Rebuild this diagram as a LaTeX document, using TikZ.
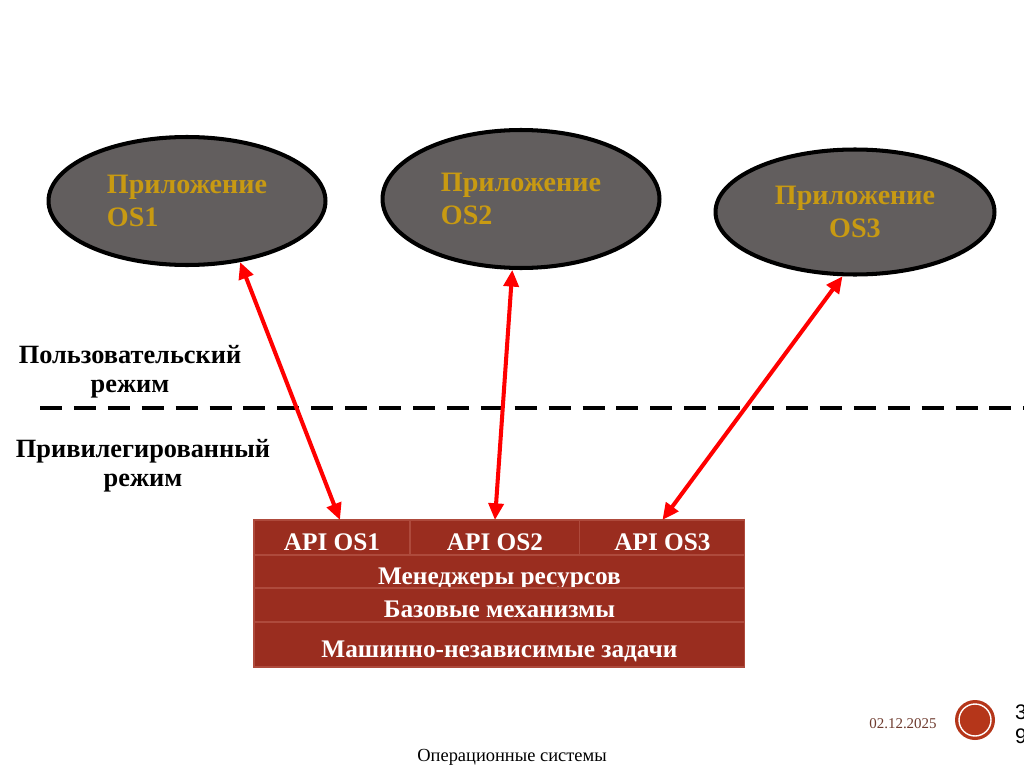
\documentclass[tikz,border=0pt]{standalone}
\usepackage{fontspec}
\setmainfont{Liberation Serif}
\newfontfamily\pagefont{Liberation Sans}
\usetikzlibrary{arrows.meta,positioning,shapes.geometric,calc}
\definecolor{appgray}{HTML}{625E5E}
\definecolor{appgold}{HTML}{C89A12}
\definecolor{kernred}{HTML}{9A2D1F}
\definecolor{kernline}{HTML}{AE4A3C}
\definecolor{datebrown}{HTML}{6E3B2E}
\definecolor{badgered}{HTML}{B5361A}

\begin{document}
\begin{tikzpicture}[x=0.02cm, y=-0.02cm,
  app/.style={ellipse, draw=black, line width=2.3pt, fill=appgray, text=appgold,
              font=\fontsize{16}{18.5}\selectfont\bfseries, inner sep=0pt},
  mode/.style={align=center, font=\fontsize{15}{16.5}\selectfont\bfseries},
  cell/.style={rectangle, draw=kernline, line width=0.6pt, fill=kernred, text=white,
               font=\fontsize{14.4}{16}\selectfont\bfseries, inner sep=0pt, outer sep=0pt,
               text height=14.5pt, text depth=0pt},
  link/.style={red, line width=2.3pt,
               {Triangle[length=9.5pt,width=8.5pt]}-{Triangle[length=9.5pt,width=8.5pt]}}]
  \useasboundingbox[fill=white] (0,0) rectangle (1024,767);

  \node[app, minimum width=5.54cm, minimum height=2.56cm, align=left] (app1) at (187,201) {Приложение\\OS1};
  \node[app, minimum width=5.54cm, minimum height=2.76cm, align=left] (app2) at (521,199) {Приложение\\OS2};
  \node[app, minimum width=5.58cm, minimum height=2.5cm, align=center] (app3) at (855,212) {Приложение\\OS3};

  \node[mode] (user) at (130,372) {Пользовательский\\режим};
  \node[mode] (priv) at (143,466) {Привилегированный\\режим};
  \draw[line width=2.8pt, dash pattern=on 12.5pt off 6.8pt] (40,408) -- (1024,408);

  \node[cell, minimum width=3.12cm, minimum height=0.7cm, anchor=north west] (api1) at (254,520) {API OS1};
  \node[cell, minimum width=3.4cm, minimum height=0.7cm, right=0pt of api1] (api2) {API OS2};
  \node[cell, minimum width=3.3cm, minimum height=0.7cm, right=0pt of api2] (api3) {API OS3};
  \node[cell, minimum width=9.82cm, minimum height=0.66cm, below=0pt of api1.south west, anchor=north west] (mgr) {Менеджеры ресурсов};
  \node[cell, minimum width=9.82cm, minimum height=0.68cm, below=0pt of mgr] (base) {Базовые механизмы};
  \node[cell, minimum width=9.82cm, minimum height=0.9cm, below=0pt of base] (indep) {Машинно-независимые задачи};

  \draw[link] (app1.-49) -- ([xshift=0.16cm]api1.north);
  \draw[link] (app2.-97) -- (api2.north);
  \draw[link] (app3.-101) -- (api3.north);

  \node[font=\fontsize{8.5}{10}\selectfont, text=datebrown] (date) at (903,724) {02.12.2025};
  \node[circle, fill=badgered, minimum size=0.8cm, inner sep=0pt] (badge) at (975,720) {};
  \draw[white, line width=0.8pt] (badge.center) circle[radius=0.32cm];
  \node[font=\pagefont\fontsize{12}{13.5}\selectfont, anchor=west, align=left] (pgnum) at (1009,724) {3\\9};
  \node[font=\fontsize{10.5}{12}\selectfont] (footer) at (512,757) {Операционные системы};
\end{tikzpicture}
\end{document}
